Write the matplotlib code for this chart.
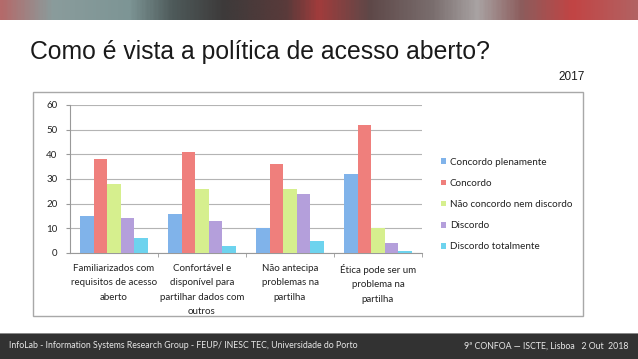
import matplotlib
matplotlib.use("Agg")
import matplotlib.pyplot as plt
import numpy as np
from matplotlib.patches import Rectangle
from matplotlib.colors import LinearSegmentedColormap

categories = ["Familiarizados com\nrequisitos de acesso\naberto",
              "Confortável e\ndisponível para\npartilhar dados com\noutros",
              "Não antecipa\nproblemas na\npartilha",
              "Ética pode ser um\nproblema na\npartilha"]
series_names = ["Concordo plenamente", "Concordo", "Não concordo nem discordo",
                "Discordo", "Discordo totalmente"]
concordo_plenamente = [15, 16, 10, 32]
concordo = [38, 41, 36, 52]
nem = [28, 26, 26, 10]
discordo = [14, 13, 24, 4]
discordo_totalmente = [6, 3, 5, 1]
yticks = [0, 10, 20, 30, 40, 50, 60]

series = [concordo_plenamente, concordo, nem, discordo, discordo_totalmente]
colors = ["#80b3ea", "#ef7f7c", "#d6ef8e", "#b49fdb", "#6dd3ee"]

W, H = 638, 359
fig = plt.figure(figsize=(W/100, H/100), dpi=100)
fig.patch.set_facecolor("white")

# top decorative banner
bax = fig.add_axes([0, 1-20/H, 1, 20/H])
stops = [(0.0, "#b46a6a"), (0.08, "#8a9c9c"), (0.2, "#7d9595"), (0.27, "#4e5a5a"),
         (0.35, "#3d3a3a"), (0.45, "#5a3a3a"), (0.5, "#a13c3c"), (0.58, "#5e4848"),
         (0.68, "#7a6e6e"), (0.75, "#a9a3a3"), (0.82, "#8c5c5c"), (0.9, "#c24444"),
         (1.0, "#b26262")]
cmap = LinearSegmentedColormap.from_list("ban", stops)
grad = np.linspace(0, 1, 400)[None, :]
bax.imshow(np.vstack([grad, grad]), aspect="auto", cmap=cmap, extent=[0, 1, 0, 1])
bax.set_axis_off()

# title
fig.text(30/W, 1-52/H, "Como é vista a política de acesso aberto?",
         fontsize=17.8, family="Liberation Sans", color="#1a1a1a", va="center", ha="left")
fig.text(585/W, 1-77/H, "2017", fontsize=8.5, family="Liberation Sans",
         color="#1a1a1a", va="center", ha="right")

# chart frame
fig.add_artist(Rectangle((33/W, 1-316/H), (583-33)/W, (316-92)/H,
                         transform=fig.transFigure, fill=False,
                         edgecolor="#a8a8a8", lw=1))

ax = fig.add_axes([70/W, 1-253/H, (422-70)/W, (253-105)/H])
x = np.arange(len(categories))
bw = 0.153
for i, (vals, c, name) in enumerate(zip(series, colors, series_names)):
    ax.bar(x + (i-2)*bw, vals, width=bw, color=c, label=name, zorder=3)

ax.set_xlim(-0.5, 3.5)
ax.set_ylim(0, 60)
ax.set_yticks(yticks)
ax.set_yticklabels([str(v) for v in yticks], fontsize=7, family="Lato", color="#222222")
ax.yaxis.grid(True, color="#b4b4b4", lw=0.8, zorder=0)
ax.set_xticks(x)
ax.set_xticklabels(categories, fontsize=7, family="Lato", color="#222222",
                   linespacing=1.75)
ax.set_xticks([0.5, 1.5, 2.5, 3.5], minor=True)
ax.tick_params(axis="x", which="major", length=0, pad=8)
ax.tick_params(axis="x", which="minor", length=3, color="#999999")
ax.tick_params(axis="y", length=3, color="#999999", pad=6)
for s in ["top", "right"]:
    ax.spines[s].set_visible(False)
ax.spines["left"].set_color("#999999")
ax.spines["bottom"].set_color("#999999")
ax.spines["left"].set_linewidth(0.8)
ax.spines["bottom"].set_linewidth(0.8)
ax.set_facecolor("white")

leg = fig.legend(loc="upper left", bbox_to_anchor=(437/W, 1-154/H),
                 frameon=False, prop={"family": "Lato", "size": 7.1},
                 handlelength=0.55, handleheight=0.55, handletextpad=0.35,
                 labelspacing=1.22, borderaxespad=0)
for t in leg.get_texts():
    t.set_color("#222222")

# footer
fig.add_artist(Rectangle((0, 0), 1, (H-333)/H, transform=fig.transFigure,
                         facecolor="#323232", edgecolor="none"))
fig.add_artist(Rectangle((0, (H-334)/H), 1, 1.5/H, transform=fig.transFigure,
                         facecolor="#8a8a8a", edgecolor="none"))
fig.text(9/W, 1-346/H,
         "InfoLab - Information Systems Research Group - FEUP/ INESC TEC, Universidade do Porto",
         fontsize=6.3, family="Lato", color="#e8e8e8", va="center", ha="left")
fig.text(628/W, 1-346/H, "9ª CONFOA — ISCTE, Lisboa   2 Out  2018",
         fontsize=6.3, family="Lato", color="#e8e8e8", va="center", ha="right")

fig.savefig("out.png", dpi=100)
